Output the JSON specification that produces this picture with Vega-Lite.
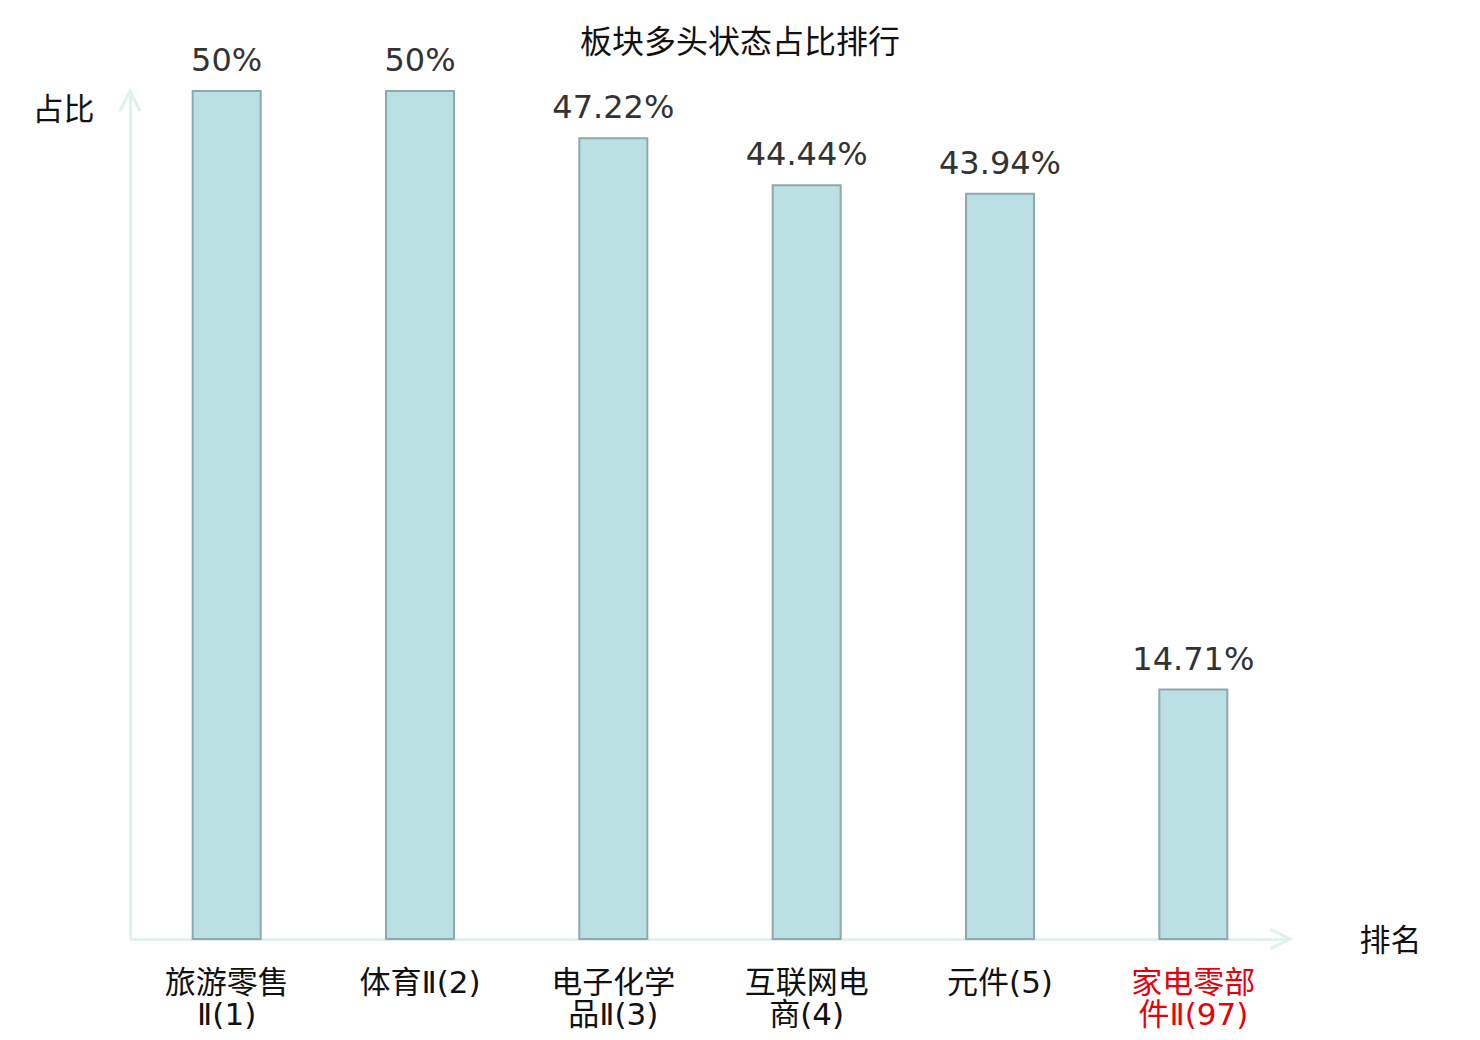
{
  "$schema": "https://vega.github.io/schema/vega-lite/v6.json",
  "width": 1160,
  "height": 848,
  "autosize": {"type": "none"},
  "padding": {"left": 130, "top": 91, "right": 190, "bottom": 101},
  "background": "white",
  "title": {
    "text": "板块多头状态占比排行",
    "font": "Noto Sans CJK SC",
    "fontSize": 32,
    "fontWeight": "normal",
    "color": "#111111",
    "anchor": "middle",
    "frame": "group",
    "dx": 30,
    "offset": -15
  },
  "config": {
    "view": {"stroke": null},
    "axis": {"grid": false}
  },
  "layer": [
    {
      "data": {
        "values": [
          {"sector": "旅游零售Ⅱ(1)", "pct": 0.5},
          {"sector": "体育Ⅱ(2)", "pct": 0.5},
          {"sector": "电子化学品Ⅱ(3)", "pct": 0.4722},
          {"sector": "互联网电商(4)", "pct": 0.4444},
          {"sector": "元件(5)", "pct": 0.4394},
          {"sector": "家电零部件Ⅱ(97)", "pct": 0.1471}
        ]
      },
      "encoding": {
        "x": {
          "field": "sector",
          "type": "nominal",
          "sort": null,
          "scale": {"paddingInner": 0, "paddingOuter": 0},
          "axis": {
            "title": "排名",
            "titleFont": "Noto Sans CJK SC",
            "titleFontSize": 31,
            "titleFontWeight": "normal",
            "titleColor": "#111111",
            "titleAlign": "center",
            "titleBaseline": "middle",
            "titleX": 1260,
            "titleY": 2,
            "labelAngle": 0,
            "labelFont": "DejaVu Sans, Noto Sans CJK SC",
            "labelFontWeight": "normal",
            "labelFontSize": 31,
            "labelLineHeight": 32,
            "labelPadding": 29,
            "labelBaseline": "top",
            "labelColor": {
              "condition": {"test": "datum.value == '家电零部件Ⅱ(97)'", "value": "#e8000b"},
              "value": "#111111"
            },
            "labelExpr": "length(datum.label) > 6 ? [substring(datum.label, 0, 4), substring(datum.label, 4)] : datum.label",
            "ticks": false,
            "domainColor": "#dff2ef",
            "domainWidth": 3
          }
        },
        "y": {
          "field": "pct",
          "type": "quantitative",
          "scale": {"domain": [0, 0.5], "nice": false},
          "axis": {
            "title": "占比",
            "titleFont": "Noto Sans CJK SC",
            "titleFontSize": 31,
            "titleFontWeight": "normal",
            "titleColor": "#111111",
            "titleAngle": 0,
            "titleAlign": "center",
            "titleBaseline": "middle",
            "titleX": -67,
            "titleY": 19,
            "labels": false,
            "ticks": false,
            "domainColor": "#dff2ef",
            "domainWidth": 3
          }
        }
      },
      "layer": [
        {
          "mark": {"type": "bar", "width": 68, "fill": "#bbe0e3", "stroke": "#8fa9ab", "strokeWidth": 2}
        },
        {
          "mark": {
            "type": "text",
            "baseline": "bottom",
            "dy": -13,
            "font": "DejaVu Sans",
            "fontSize": 32,
            "color": "#333333"
          },
          "encoding": {
            "text": {"field": "pct", "type": "quantitative", "format": ".2~%"}
          }
        }
      ]
    },
    {
      "data": {"values": [{"sector": "家电零部件Ⅱ(97)", "pct": 0}]},
      "mark": {
        "type": "point",
        "shape": "M-1,-0.5L0,0L-1,0.5",
        "size": 1600,
        "filled": false,
        "stroke": "#dff2ef",
        "strokeWidth": 3,
        "opacity": 1
      },
      "encoding": {
        "x": {"field": "sector", "type": "nominal", "sort": null, "bandPosition": 1},
        "y": {"field": "pct", "type": "quantitative"}
      }
    },
    {
      "data": {"values": [{"sector": "旅游零售Ⅱ(1)", "pct": 0.5}]},
      "mark": {
        "type": "point",
        "shape": "M-1,-0.5L0,0L-1,0.5",
        "size": 1600,
        "filled": false,
        "stroke": "#dff2ef",
        "strokeWidth": 3,
        "opacity": 1,
        "angle": 270
      },
      "encoding": {
        "x": {"field": "sector", "type": "nominal", "sort": null, "bandPosition": 0},
        "y": {"field": "pct", "type": "quantitative"}
      }
    }
  ]
}
